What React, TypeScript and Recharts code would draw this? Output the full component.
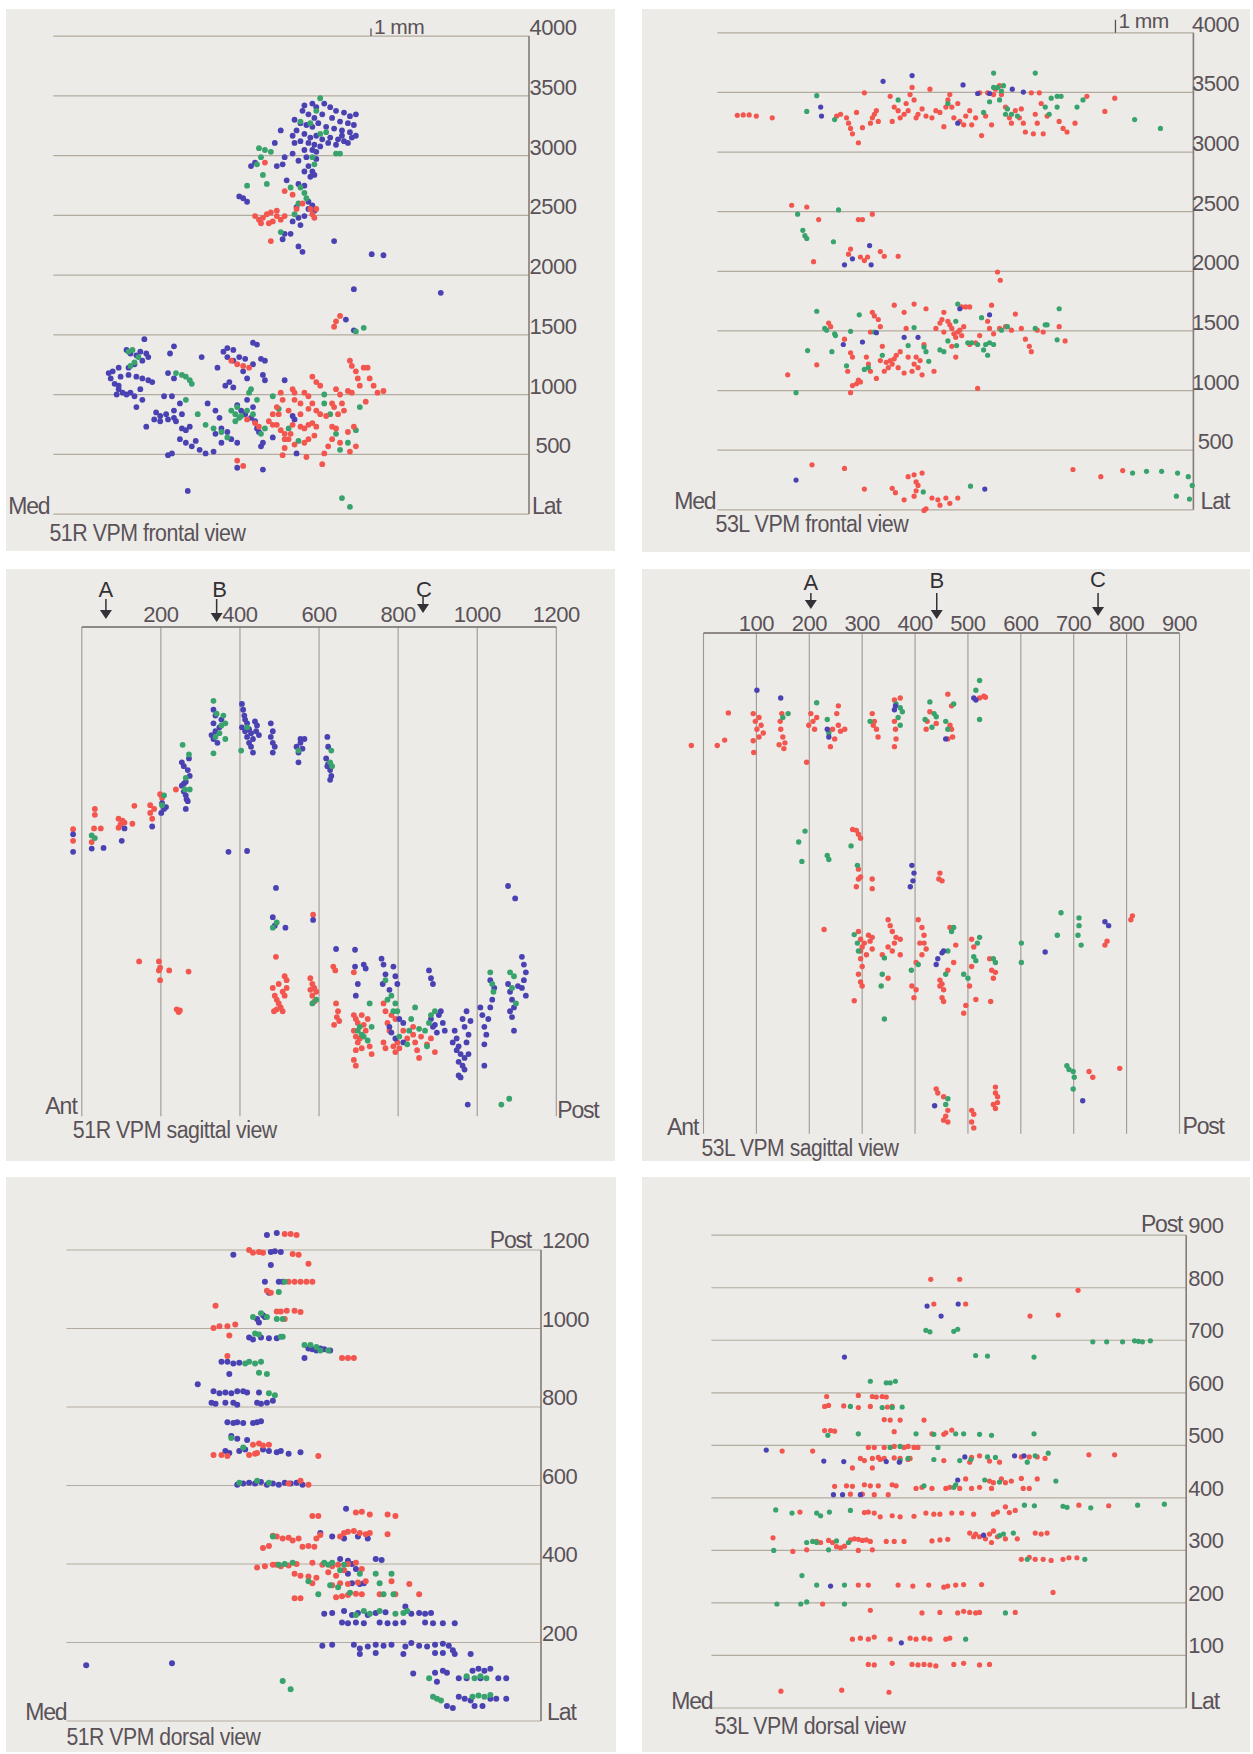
import React from "react";
import { ScatterChart, Scatter, XAxis, YAxis, ReferenceLine, ReferenceDot } from "recharts";

type Pt = [number, number];

// ---------- tick values and labels ----------
const frontalTicks = [500, 1000, 1500, 2000, 2500, 3000, 3500, 4000];
const p3Ticks = [200, 400, 600, 800, 1000, 1200];
const p4Ticks = [100, 200, 300, 400, 500, 600, 700, 800, 900];
const p5Ticks = [200, 400, 600, 800, 1000, 1200];
const p6Ticks = [100, 200, 300, 400, 500, 600, 700, 800, 900];
const arrowLetters = ["A", "B", "C"];
const p3ArrowX = [61, 341, 863];
const p4ArrowX = [203, 441, 746];
const p1ScaleX = 2671;
const p2ScaleX = 3345;
const titles = [
  "51R VPM frontal view",
  "53L VPM frontal view",
  "51R VPM sagittal view",
  "53L VPM sagittal view",
  "51R VPM dorsal view",
  "53L VPM dorsal view",
];

// ---------- 51R frontal ----------
const p1Blue: Pt[] = [
  [2111,3420],[2178,3435],[2211,3405],[2278,3435],[2328,3405],[2377,3375],[2444,3360],[2494,3330],[2544,3345],[2095,3375],[2145,3345],[2195,3315],[2261,3345],[2344,3315],[2411,3285],[2477,3271],[2527,3256],[2028,3300],[2078,3271],[2128,3256],[2178,3241],[2228,3271],[2294,3241],[2361,3226],[2427,3211],[2494,3196],[2544,3166],[2045,3211],[2111,3181],[2161,3151],[2211,3166],[2261,3136],[2328,3151],[2394,3136],[2444,3121],[2510,3151],[2078,3121],[2145,3106],[2195,3091],[2244,3077],[2311,3106],[2377,3091],[2427,3166],[2477,3106],[2012,3166],[2028,3106],[2111,3047],[2178,3047],[2211,3032],[1912,3211],[1862,3106],[1945,2987],[2012,3017],[2061,2957],[2128,2987],[2211,2972],[2145,2912],[2178,2867],[2111,2867],[2161,2823],[2195,2838],[1928,2927],[1879,2912],[1662,2912],[1696,2942],[1563,2658],[1629,2614],[1596,2643],[1962,2793],[2061,2763],[2111,2748],[2145,2614],[2178,2584],[2195,2539],[2145,2554],[2045,2569],[2111,2494],[2061,2479],[2012,2449],[2078,2419],[1945,2345],[1995,2345],[1928,2300],[2061,2240],[2095,2195],[2361,2285],[2677,2175],[2776,2166],
  [2527,1882],[3258,1852],[2460,1628],[2527,1538],
  [765,1464],[615,1374],[648,1344],[698,1329],[731,1359],[781,1344],[798,1314],[748,1284],[682,1254],[632,1225],[549,1225],[499,1195],[465,1180],[482,1135],[515,1090],[565,1150],[632,1165],[698,1150],[748,1135],[798,1120],[831,1105],[549,1045],[582,1016],[615,1001],[648,1016],[682,986],[549,1075],[532,1001],[698,896],[731,1045],[748,956],[1014,1404],[981,1344],[964,1180],[1014,1135],[931,986],[997,986],[864,851],[898,821],[948,836],[1014,866],[1064,926],[1081,836],[848,792],[898,777],[964,792],[1014,806],[1031,777],[1081,717],[1114,702],[1147,732],[781,732],[1064,627],[1114,597],[1164,567],[1197,612],[1230,538],[1280,508],[1347,523],[1297,926],[1363,866],[1397,806],[1413,717],[1463,687],[1496,627],[1546,597],[1413,597],[1363,672],[1247,1314],[1380,1225],[1430,1359],[1463,1389],[1513,1374],[1463,1314],[1513,1284],[1563,1314],[1613,1299],[1679,1434],[1712,1419],[1746,1299],[1779,1284],[1679,1254],[1596,1195],[1629,1135],[1762,1165],[1779,1120],[1480,1105],[1446,1075],[1513,1060],[1546,911],[1579,866],[1613,836],[1679,896],[1629,956],[1662,806],[1696,777],[1712,717],[1729,687],[1762,597],[964,493],[997,508],[1546,388],[1762,373],[1130,194],[1945,1120],[2028,792],[2012,821],[2045,508],[1746,567],[1845,642],
];
const p1Green: Pt[] = [
  [2244,3480],[2211,3375],[2161,3271],[2078,3285],[2244,3181],[2294,3196],[1729,3062],[1779,3047],[1829,3032],[1746,2987],[1712,2927],[1762,2838],[1795,2763],[1629,2748],[2178,2987],[2195,2927],[2078,2733],[2111,2688],[2128,2643],[1995,2733],[1912,2360],[2028,2509],[2061,2599],[2377,3017],[2411,3017],
  [2610,1559],[2544,1529],
  [632,1359],[665,1374],[682,1270],[715,1314],[648,1240],[1031,1180],[1081,1165],[1114,1150],[1147,1120],[1164,1090],[1114,956],[1214,836],[1280,747],[1347,717],[1413,687],[1463,642],[1496,866],[1530,836],[1563,806],[1530,777],[1546,896],[1579,821],[1629,866],[1646,1016],[1662,1045],[1679,836],[1712,956],[1746,672],[1779,717],[1845,986],[1895,881],[1978,717],[2061,612],[2278,926],[2328,836],[2377,672],[2411,538],[2477,597],[2544,702],[2427,134],[2494,60],[2577,896],[2278,1001],
];
const p1Red: Pt[] = [
  [1779,2942],[1945,2703],[2095,2599],[1696,2494],[1729,2464],[1762,2479],[1795,2509],[1829,2524],[1879,2494],[1912,2464],[1945,2494],[1845,2449],[1812,2434],[1746,2434],[1879,2539],[2178,2509],[2195,2479],[2161,2554],[2211,2554],[2045,2554],[1829,2285],[2012,2673],
  [2411,1658],[2377,1613],[2361,1568],
  [1496,1284],[1546,1254],[1596,1240],[1646,1225],[1546,448],[1596,403],[1629,792],[1696,762],[1729,732],[1812,777],[1845,747],[1879,747],[1912,702],[1945,672],[1978,627],[2012,747],[2078,732],[2111,717],[2145,747],[2178,762],[2211,732],[2195,657],[2145,627],[2111,597],[2028,582],[1945,553],[1928,493],[1945,627],[1879,896],[1895,836],[1845,836],[1928,956],[1978,866],[2012,1045],[2028,956],[2078,926],[2111,1016],[2145,986],[2178,1150],[2211,1105],[2244,1075],[2178,926],[2211,866],[2244,836],[2294,821],[2344,732],[2344,627],[2311,567],[2278,508],[2261,418],[2128,478],[2377,1045],[2411,1001],[2427,926],[2444,866],[2394,836],[2344,926],[2361,896],[2477,1030],[2494,1284],[2510,1240],[2544,1195],[2560,1135],[2577,1075],[2610,1225],[2643,1225],[2660,1135],[2693,1075],[2726,1016],[2776,1030],[2510,1016],[2627,941],[2527,732],[2477,687],[2544,567],[2494,523],[2411,597],[2377,717],[1995,672],[2078,836],[2028,1016],[1912,1016],[2145,881],
];

// ---------- 53L frontal ----------
const p2Red: Pt[] = [
  [167,3308],[217,3311],[267,3311],[327,3302],[461,3287],[1002,3302],[1035,3317],[1085,3287],[1102,3242],[1119,3198],[1135,3153],[1185,3078],[1169,3332],[1219,3204],[1235,3497],[1286,3242],[1302,3287],[1336,3347],[1352,3257],[1319,3317],[1452,3467],[1469,3257],[1486,3377],[1519,3347],[1536,3287],[1569,3317],[1586,3407],[1603,3347],[1619,3482],[1636,3542],[1653,3437],[1670,3287],[1686,3317],[1720,3362],[1753,3302],[1786,3527],[1803,3287],[1836,3347],[1870,3332],[1903,3213],[1920,3377],[1937,3437],[1953,3482],[1970,3377],[1987,3287],[2020,3407],[2037,3257],[2070,3228],[2087,3302],[2120,3347],[2137,3228],[2170,3287],[2204,3497],[2220,3138],[2254,3302],[2271,3497],[2304,3228],[2321,3482],[2337,3527],[2371,3557],[2387,3482],[2421,3377],[2454,3287],[2471,3242],[2504,3347],[2538,3287],[2554,3362],[2571,3242],[2588,3168],[2638,3497],[2655,3153],[2671,3317],[2688,3242],[2705,3497],[2721,3407],[2771,3302],[2872,3257],[2905,3198],[2938,3168],[3005,3242],[3105,3467],[3256,3341],[3339,3452],[2738,3153],
  [624,2554],[751,2539],[851,2434],[1185,2434],[1219,2434],[1302,2479],[1102,2144],[1119,2186],[1202,2120],[1235,2090],[1262,2120],[1369,2165],[1402,2126],[1519,2126],[808,2081],[2354,1994],[2377,1925],
  [591,1132],[835,1216],[935,1566],[952,1536],[1068,1431],[1119,1317],[1135,1281],[1095,1162],[1135,1042],[1119,982],[1169,1057],[1185,1087],[1202,1072],[1252,1281],[1269,1222],[1286,1162],[1302,1656],[1319,1626],[1336,1102],[1352,1596],[1286,1491],[1369,1536],[1369,1251],[1402,1162],[1386,1371],[1419,1237],[1436,1192],[1452,1251],[1469,1222],[1486,1266],[1503,1296],[1519,1192],[1536,1326],[1486,1716],[1569,1656],[1586,1521],[1603,1281],[1569,1147],[1636,1162],[1653,1222],[1670,1281],[1686,1192],[1703,1251],[1653,1725],[1753,1686],[1736,1386],[1720,1132],[1820,1162],[1836,1521],[1870,1566],[1887,1596],[1903,1656],[1903,1491],[1937,1581],[1953,1551],[1970,1521],[1987,1476],[2003,1446],[2020,1491],[2037,1506],[2053,1461],[2070,1536],[2053,1701],[2087,1701],[2120,1701],[1970,1371],[2003,1281],[2120,1386],[2187,1018],[2204,1461],[2271,1581],[2287,1521],[2304,1716],[2321,1476],[2371,1521],[2421,1536],[2504,1641],[2471,1506],[2554,1521],[2588,1431],[2621,1371],[2638,1326],[2688,1506],[2738,1491],[2872,1536],[2922,1416],[2170,1401],
  [795,377],[1068,347],[1235,174],[1469,180],[1496,144],[1569,84],[1603,278],[1653,293],[1670,234],[1686,204],[1720,308],[1670,159],[1653,114],[1736,-5],[1753,9],[1803,99],[1853,84],[1870,39],[1920,99],[1953,54],[2020,99],[2988,338],[3222,278],[3406,329],
];
const p2Blue: Pt[] = [
  [1392,3593],[1636,3641],[868,3377],[875,3302],[2064,3563],[2020,3242],[2187,3491],[2287,3491],[2478,3527],[2571,3503],
  [1279,2216],[1135,2105],[1068,2054],[1292,2054],
  [1058,1386],[1219,1407],[1336,1485],[1569,1446],[1686,1446],[2037,1686],[2287,1635],
  [661,249],[2247,174],
];
const p2Green: Pt[] = [
  [835,3473],[751,3341],[985,3272],[1519,3437],[1937,3407],[2237,3332],[2287,3422],[2321,3662],[2321,3542],[2354,3542],[2387,3512],[2404,3557],[2421,3317],[2471,3317],[2521,3302],[2671,3662],[2755,3377],[2805,3452],[2855,3467],[2888,3467],[2788,3317],[2855,3377],[3022,3377],[3072,3437],[3506,3272],[3723,3198],[2371,3437],[2437,3362],
  [674,2479],[1018,2515],[718,2344],[751,2275],[735,2299],[975,2248],
  [835,1665],[902,1521],[918,1506],[985,1476],[992,1461],[758,1335],[962,1326],[1119,1497],[1085,1207],[1192,1635],[1235,1177],[1269,1192],[1319,1491],[1386,1296],[1603,1377],[1653,1528],[1736,1365],[1753,1326],[1776,1245],[1870,1341],[1903,1326],[1937,1416],[2010,1377],[2020,1725],[2003,1581],[2104,1401],[2137,1401],[2187,1386],[2220,1611],[2237,1341],[2254,1386],[2271,1296],[2287,1401],[2321,1386],[2387,1506],[2437,1536],[2671,1521],[2755,1551],[2771,1551],[2872,1686],[2855,1425],[661,982],
  [1730,150],[2127,198],[3489,308],[3606,323],[3733,323],[3867,308],[3957,278],[3990,204],[3857,114],[3967,90],
];

// ---------- 51R sagittal ----------
const p3Red: Pt[] = [
  [-22,2306],[-22,2209],[33,2476],[33,2427],[31,2313],[25,2199],[48,2313],[93,2394],[98,2346],[103,2378],[93,2319],[108,2362],[128,2352],[133,2502],[173,2508],[173,2443],[178,2394],[183,2476],[198,2600],[203,2567],[238,2639],
  [585,1590],[145,1199],[195,1199],[198,1147],[198,1042],[221,1124],[270,1114],[195,1124],[240,798],[245,775],[248,788],[491,1238],
  [483,977],[488,912],[493,879],[498,847],[503,814],[508,782],[493,798],[513,1075],[518,1042],[518,977],[513,912],[508,945],[486,782],[498,1010],
  [578,1059],[583,1010],[588,977],[593,945],[583,912],[588,863],[578,961],
  [636,1156],[641,1124],[643,847],[648,782],[645,733],[638,668],[651,700],
  [688,1108],[688,749],[693,717],[698,684],[688,619],[693,570],[698,521],[693,456],[688,374],[693,326],[708,749],[713,668],[718,619],[723,717],[728,488],[733,423],[708,472],[703,554],
  [763,847],[768,782],[773,684],[778,619],[763,521],[768,472],[788,488],[793,440],[798,521],[803,472],[783,749],[793,717],[813,619],[823,554],
  [838,586],[843,521],[848,456],[853,391],[838,651],[858,570],[873,505],[893,440],[883,554],
];
const p3Blue: Pt[] = [
  [-22,2264],[-22,2117],[25,2144],[55,2150],[101,2209],[108,2313],[178,2329],[203,2525],[201,2443],[208,2476],[213,2492],
  [253,2671],[258,2622],[263,2590],[268,2541],[263,2476],[253,2867],[258,2834],[268,2802],[273,2753],[263,2704],[271,2899],[265,2557],[258,2688],
  [333,3307],[338,3258],[333,3193],[338,3127],[333,3062],[343,3030],[328,3095],[348,3160],[353,3225],
  [405,3356],[408,3307],[411,3258],[413,3225],[418,3193],[423,3144],[428,3111],[433,3062],[423,3030],[428,2997],[433,2948],[438,3209],[443,3176],[413,3127],[418,3079],[405,3160],[441,3127],[448,3095],
  [478,3193],[483,3127],[478,3079],[483,3030],[488,2997],[483,2948],
  [543,2997],[548,2948],[553,3030],[558,2981],[563,3062],[548,2867],[553,3062],
  [621,3079],[623,2997],[618,2899],[623,2851],[628,2802],[631,2753],[628,2720],[621,2834],
  [371,2117],[418,2124],
  [491,1815],[483,1570],[488,1498],[515,1482],[585,1547],[643,1303],
  [691,1297],[691,1156],[698,1010],[693,912],[713,1173],[718,1140],
  [758,1222],[763,1173],[768,1091],[761,1010],[788,1156],[793,1075],[798,1010],[778,651],[783,603],[803,717],[813,684],[793,554],[778,961],[813,521],
  [878,1124],[883,1059],[888,1010],[883,717],[893,668],[903,749],[908,782],[913,684],[918,619],[898,603],[888,651],
  [943,619],[948,554],[953,488],[958,423],[953,358],[963,326],[968,293],[953,244],[958,228],[973,521],[978,586],[968,651],[973,782],[983,700],[963,717],[948,456],[938,521],[978,423],[968,391],[976,0],
  [1008,814],[1013,749],[1018,651],[1023,586],[1018,505],[1033,814],[1038,879],[1028,717],[1018,326],[1033,1042],[1043,977],
  [1078,1010],[1083,945],[1088,879],[1093,814],[1083,782],[1088,733],[1093,619],[1078,1831],[1096,1727],[1113,1238],[1118,1173],[1123,1108],[1118,1042],[1113,977],[1123,912],[1103,993],
];
const p3Green: Pt[] = [
  [25,2254],[33,2232],[208,2590],[203,2508],
  [255,3013],[271,2932],[263,2737],[273,2639],[261,2639],
  [333,3382],[341,3274],[338,3079],[348,3111],[353,3176],[358,3258],[363,3062],[333,2942],[363,3193],
  [403,2965],[418,3160],[548,2965],[631,2965],[628,2867],[633,2834],
  [493,1525],[483,1482],[593,879],[583,847],
  [698,619],[708,586],[713,570],[723,537],[733,651],[728,847],[703,651],
  [768,1042],[773,879],[783,912],[793,847],[788,782],[798,782],[803,570],[823,505],[833,717],[843,814],[828,619],
  [853,635],[868,619],[878,684],[883,749],[893,782],[873,488],
  [1033,1108],[1038,1010],[1041,945],
  [1083,1108],[1093,1075],[1098,847],[1088,977],[1061,0],[1081,49],
];

// ---------- 53L sagittal ----------
const p4Red: Pt[] = [
  [-23,3058],[26,3058],[40,3103],[47,3331],[94,3325],[98,3260],[101,3194],[105,3129],[94,3097],[95,2999],[109,3227],[113,3162],[105,3292],[145,3260],[146,3194],[150,3129],[143,3064],[152,3032],[148,3325],[154,3080],[195,2918],[203,3325],[207,3260],[210,3194],[214,3292],[199,3227],[255,3390],[252,3325],[255,3227],[259,3178],[244,3194],[240,3048],[248,3113],[267,3194],[319,3325],[323,3260],[327,3194],[330,3129],[321,3227],[361,3439],[361,3260],[363,3194],[364,3113],[361,3048],[372,3455],[421,3194],[423,3260],[428,3341],[440,3243],[462,3488],[466,3227],[469,3194],[471,3129],[462,3113],[469,3390],[522,3455],[530,3471],[533,3462],
  [282,2354],[289,2347],[293,2315],[297,2282],[293,2022],[297,1956],[289,1875],[293,1940],[319,1940],[319,1859],[447,1989],[451,1924],[445,1940],
  [228,1517],[285,920],[293,1500],[297,1435],[300,1370],[304,1403],[312,1468],[315,1419],[319,1354],[297,1272],[300,1207],[293,1142],[297,1077],[300,1044],[297,1337],[308,1305],[319,1451],[349,1598],[353,1549],[357,1500],[364,1451],[361,1403],[349,1370],[372,1435],[372,1305],[357,1337],[338,1305],[349,1109],[406,1598],[413,1533],[417,1468],[409,1403],[421,1354],[413,1305],[402,1240],[394,1044],[402,1012],[398,946],[417,1403],[447,1093],[451,1060],[454,1012],[451,946],[454,914],[447,1044],[462,1175],[466,1533],[477,1386],[507,1435],[511,1370],[507,1207],[515,930],[496,881],[492,816],[541,1272],[545,1175],[548,1109],[543,914],[552,1158],[811,1631],[808,1598],[759,1386],[763,1419],[503,1044],[473,1240],
  [440,181],[443,148],[454,116],[462,2],[458,-47],[454,-80],[462,-96],[507,2],[511,-31],[507,-96],[511,-145],[552,197],[552,148],[556,116],[548,51],[552,18],[556,67],[729,327],[736,279],[787,354],
];
const p4Green: Pt[] = [
  [160,3325],[150,3292],[214,3416],[234,3276],[237,3162],[315,3260],[364,3406],[372,3374],[376,3341],[368,3292],[372,3227],[419,3276],[428,3423],[436,3325],[440,3299],[458,3260],[462,3194],[473,3406],[515,3520],[522,3602],[522,3276],[432,3211],
  [192,2341],[180,2250],[186,2087],[234,2136],[237,2103],[279,2217],[291,2054],
  [285,1474],[291,1403],[293,1337],[342,1279],[338,1142],[336,1044],[342,767],[393,1175],[406,1223],[462,1337],[469,1500],[473,1533],[458,1142],[492,1142],[500,1109],[511,1289],[515,1256],[522,1451],[518,1403],[552,1240],[548,1272],[601,1403],[601,1240],[669,1468],[676,1657],[710,1614],[710,1549],[708,1468],[714,1386],
  [687,376],[691,344],[699,327],[701,279],[699,181],[458,51],[462,99],
];
const p4Blue: Pt[] = [
  [101,3520],[146,3455],[234,3194],[237,3129],[363,3390],[361,3357],[458,3113],[511,3455],[515,3439],
  [394,2054],[396,1924],[391,1875],[398,1989],
  [440,1223],[443,1272],[451,1321],[454,1337],[646,1328],[759,1582],[766,1549],
  [437,41],[717,83],
];

// ---------- 51R dorsal ----------
const p5Blue: Pt[] = [
  [1690,1238],[1773,1243],[1407,1188],[1723,1195],[1757,1197],[1807,1195],[1723,1162],[1673,1119],[1790,1119],[1823,1119],[1707,1091],[1657,1034],[1607,1024],[1623,1015],[1673,1029],[1540,977],[1573,972],[1640,977],[1707,975],[1773,975],[1307,915],[1357,915],[1407,911],[1457,913],[1373,884],[1107,858],[1240,840],[1290,835],[1340,837],[1390,835],[1440,840],[1490,840],[1523,837],[1223,811],[1257,808],[1340,811],[1407,811],[1440,806],[1607,811],[1640,808],[1690,811],[1740,816],[1357,761],[1407,759],[1440,761],[1490,759],[1573,759],[1607,761],[1640,764],[1390,726],[1440,719],[1523,716],[1340,688],[1373,683],[1457,688],[1507,692],[1657,692],[1707,688],[1773,685],[1807,688],[1873,681],[1973,685],[2007,925],[2040,949],[2073,947],[2107,944],[2140,949],[2173,947],[2223,944],[1440,602],[1490,605],[1540,607],[1590,605],[1640,609],[1690,602],[1740,605],[1790,602],[1840,607],[1890,605],[1940,607],[1990,602],[1623,837],
  [2357,541],[2140,479],[2240,470],[2340,465],[2457,470],[2540,465],[2607,413],[2657,410],[2307,413],[2373,408],[2407,400],[2440,387],[2407,351],[2473,349],[2507,351],[2373,375],[2173,273],[2240,275],[2340,280],[2407,270],[2457,275],[2540,270],[2607,275],[2690,277],[2857,292],[2907,273],[2973,275],[3023,273],[3073,275],[2323,251],[2373,249],[2440,251],[2507,249],[2640,251],[2707,249],[2773,249],[2840,251],[3023,251],[3090,249],[3173,249],[3273,249],[2157,192],[2240,194],[2423,194],[2473,185],[2540,190],[2607,194],[2673,192],[2740,194],[2857,190],[2907,199],[2973,192],[3040,190],[3107,194],[3173,197],[3223,192],[3257,180],[2473,171],[2607,173],[2840,171],[3107,173],[3173,173],[3273,171],[3407,171],[2923,121],[3107,123],[3173,128],[3207,123],[3307,109],[3373,109],[3423,128],[3473,133],[3523,128],[3573,133],[3640,109],[3707,109],[3307,62],[3357,57],[3407,52],[3440,38],[3507,38],[3573,57],[3623,57],[3707,57],[3207,38],[3257,33],[3490,109],[167,142],[890,147],[3123,100],
];
const p5Green: Pt[] = [
  [1573,1029],[1640,1039],[1690,1029],[1773,1024],[1823,1024],[1590,987],[1623,985],[1823,979],[1507,911],[1540,915],[1590,911],[1640,915],[1623,887],[1690,884],[1707,835],[1757,830],[1390,721],[1490,697],[2007,958],[2057,958],[2107,953],[2140,944],[2207,944],[1457,607],[1607,612],[1707,607],[1807,979],[1840,1119],[1790,1093],
  [1740,470],[1790,398],[1840,400],[1907,403],[2173,403],[2207,398],[2240,403],[2307,384],[2340,398],[2040,356],[2123,323],[2223,346],[2290,341],[2390,327],[2473,375],[2607,375],[2640,351],[2740,375],[2757,323],[2673,323],[2440,270],[2507,280],[2557,273],[2640,280],[2773,273],[2840,275],[2873,280],[3057,109],[3090,62],[3123,57],[3157,52],[3373,114],[3440,109],[3490,114],[3540,109],[3423,62],[3473,65],[3523,62],[3573,66],[1823,102],[1890,81],
];
const p5Red: Pt[] = [
  [1840,1241],[1890,1241],[1940,1238],[1540,1200],[1573,1193],[1623,1195],[1657,1193],[1907,1190],[1957,1188],[2040,1165],[1873,1119],[1923,1119],[1973,1119],[2023,1119],[2073,1119],[1690,1096],[1723,1091],[1257,1058],[1773,1043],[1807,1043],[1857,1045],[1923,1045],[1973,1042],[1240,1001],[1290,1006],[1357,1006],[1423,1010],[1373,982],[1840,1024],[1357,930],[1240,678],[1307,678],[1357,675],[1573,704],[1623,707],[1657,702],[1707,704],[1540,678],[1590,681],[2123,675],[2323,925],[2373,925],[2423,925],[1873,605],[2040,602],[1973,612],[1607,683],
  [2073,522],[2123,522],[2440,531],[2490,533],[2557,526],[2707,526],[2773,522],[1657,441],[1707,446],[1740,472],[1773,470],[1823,465],[1873,467],[1907,460],[1957,465],[1990,444],[2040,446],[2090,444],[2107,465],[2140,474],[2307,470],[2340,479],[2373,482],[2423,484],[2473,479],[2523,476],[2557,479],[2707,476],[1607,391],[1673,394],[1740,398],[1773,398],[1807,394],[1873,396],[1940,400],[2073,403],[2157,398],[2240,394],[2290,398],[2340,384],[2373,400],[2440,403],[2490,387],[1923,375],[1973,370],[2040,368],[2107,365],[2073,351],[2240,346],[2307,351],[2373,349],[2457,353],[2523,356],[2740,356],[2890,349],[1923,313],[1973,313],[2273,315],[2323,318],[2373,321],[2440,324],[2490,323],[2640,323],[2773,323],[2973,323],[2273,370],[2207,379],
];

// ---------- 53L dorsal ----------
const p6Red: Pt[] = [
  [1848,816],[2092,816],[3089,795],[1874,769],[2142,769],[2684,746],[2922,748],
  [971,593],[1238,595],[1356,593],[1389,592],[1439,593],[1473,592],[954,574],[987,576],[1115,575],[1238,572],[1339,574],[1483,573],[1523,574],[1456,549],[1506,548],[1590,548],[1791,548],[954,528],[1004,528],[1038,527],[1540,526],[1858,522],[1958,521],[1975,524],[2025,529],[1322,496],[1372,496],[1456,496],[1540,498],[1623,496],[1657,498],[1707,496],[1740,496],[853,489],[596,489],
  [1188,457],[1255,475],[1289,471],[1356,475],[1356,457],[1406,477],[1422,473],[1456,475],[1540,476],[1590,475],[1657,473],[1674,475],[1958,471],[2176,468],[2259,480],[2343,470],[2427,468],[2611,478],[2678,478],[2745,478],[2811,475],[3180,482],[3397,482],[2192,477],
  [1038,422],[1138,423],[1188,422],[1289,425],[1339,423],[1406,423],[1523,425],[1556,423],[1724,418],[1774,420],[1858,418],[1975,418],[2008,420],[2092,418],[2142,436],[2192,418],[2259,420],[2343,432],[2376,429],[2443,436],[2477,429],[2527,432],[2611,437],[2627,418],[2678,418],[2745,436],[1372,406],[1490,406],[1272,407],[1171,407],[2360,418],
  [746,373],[1289,372],[1322,373],[1372,371],[1422,364],[1523,366],[1590,364],[1707,365],[1807,371],[1874,369],[1925,369],[2025,371],[2109,371],[2209,369],[2376,369],[2410,373],[2477,383],[2510,372],[2560,376],[3096,386],[3347,385],
  [519,324],[686,298],[803,301],[887,317],[920,315],[987,319],[1021,315],[1054,307],[1088,305],[1121,308],[1171,320],[1205,322],[1238,321],[1272,319],[1305,320],[1339,317],[1238,300],[1356,301],[1473,317],[1540,317],[1623,317],[1858,318],[1925,320],[1991,321],[2176,333],[2226,331],[2259,326],[2309,322],[2360,315],[2343,331],[2376,337],[2410,326],[2477,322],[2577,322],[2611,283],[2678,287],[2728,283],[2795,283],[2862,281],[2962,283],[3012,286],[3079,286],[2728,333],[2778,331],[2828,333],[2209,326],
  [937,198],[1238,234],[1322,234],[1573,234],[1697,232],[1831,234],[1958,230],[1991,232],[2058,234],[2125,235],[2276,235],[2878,220],[1339,186],[1774,181],[1925,182],[2075,181],[2125,184],[2176,182],[2226,181],[2259,182],[2560,182],
  [1188,131],[1255,133],[1322,131],[1372,135],[1506,131],[1674,133],[1724,131],[1791,133],[1841,131],[1975,131],[2008,133],[1322,83],[1372,82],[1523,85],[1690,83],[1740,82],[1791,83],[1841,82],[1891,80],[2042,83],[2125,85],[2259,82],[2343,83],[586,32],[1098,34],[1496,30],
];
const p6Green: Pt[] = [
  [1807,719],[1841,716],[2042,717],[2075,721],[2226,671],[2326,670],[2718,668],[3213,697],[3330,697],[3464,697],[3565,699],[3598,698],[3631,697],[3698,699],[1339,622],[1473,619],[1506,619],[1550,622],
  [1171,574],[1439,572],[1523,572],[1607,573],[981,519],[1238,522],[1724,522],[1874,521],[2058,522],[2125,522],[2259,521],[2360,519],[2718,522],[1506,496],[1590,498],[1908,496],
  [1874,473],[2092,471],[2186,473],[2326,478],[2393,477],[2661,468],[2728,480],[2838,485],[1590,471],[1657,475],
  [1791,423],[2042,420],[2303,434],[2427,430],[2902,432],[2058,425],
  [542,377],[679,371],[887,371],[920,366],[994,373],[1171,376],[2721,385],[2962,384],[2996,382],[3196,381],[3591,386],[3816,388],[2637,386],
  [525,300],[803,315],[853,317],[887,315],[987,301],[1054,318],[1155,315],[2460,331],[2544,333],[2661,283],[3146,283],[2427,328],
  [763,252],[887,234],[1121,234],[552,198],[753,198],[803,202],[1121,198],[2142,131],[2477,181],
];
const p6Blue: Pt[] = [
  [1817,765],[1935,746],[2079,769],[1121,668],[462,491],[947,470],[1115,469],[1473,469],[1583,468],[2135,478],[2554,480],[2634,480],[1028,406],[1105,406],[1255,406],[2075,434],[2293,329],[1004,232],[1600,124],
];

// ---------- styles ----------
const BLUE = "#4a42b2";
const RED = "#f2564e";
const GREEN = "#38a36c";
const BG = "#ecebe7";
const GRID = "#b4aba0";
const AXIS = "#857b75";
const VLINE = "#9f9893";
const INK = "#5a5258";
const DARK = "#333036";
const FONT = "'Liberation Sans', Arial, Helvetica, sans-serif";
const PAD = 16; // chart svg extends past the grey card so edge texts are not clipped

const lin = (p0: number, v0: number, p1: number, v1: number, p: number) =>
  v0 + ((p - p0) * (v1 - v0)) / (p1 - p0);

const seg = (key: string, x1: number, y1: number, x2: number, y2: number, stroke = GRID, w = 1.2) => (
  <ReferenceLine
    key={key}
    segment={[{ x: x1, y: y1 }, { x: x2, y: y2 }]}
    stroke={stroke}
    strokeWidth={w}
    ifOverflow="visible"
  />
);

type TOpts = { dx?: number; dy?: number; anchor?: "start" | "middle" | "end"; size?: number; ls?: number; len?: number; color?: string };
const txt = (key: string, x: number, y: number, text: string, o: TOpts = {}) => (
  <ReferenceDot
    key={key}
    x={x}
    y={y}
    r={0}
    ifOverflow="visible"
    shape={(p: any) => (
      <text
        x={p.cx + (o.dx ?? 0)}
        y={p.cy + (o.dy ?? 0)}
        textAnchor={o.anchor ?? "start"}
        fontFamily={FONT}
        fontSize={o.size ?? 22}
        letterSpacing={o.ls ?? -0.5}
        fill={o.color ?? INK}
        {...(o.len ? { textLength: o.len, lengthAdjust: "spacingAndGlyphs" } : {})}
      >
        {text}
      </text>
    )}
  />
);

const arrow = (key: string, x: number, y: number, letter: string, lb: number, top: number, tip: number, ldx = 0) => (
  <ReferenceDot
    key={key}
    x={x}
    y={y}
    r={0}
    ifOverflow="visible"
    shape={(p: any) => (
      <g>
        <text x={p.cx + ldx} y={p.cy + lb} textAnchor="middle" fontFamily={FONT} fontSize={22} fill={DARK}>
          {letter}
        </text>
        <line x1={p.cx} y1={p.cy + top} x2={p.cx} y2={p.cy + tip - 6} stroke={DARK} strokeWidth={1.5} />
        <path d={`M${p.cx - 6},${p.cy + tip - 9}L${p.cx + 6},${p.cy + tip - 9}L${p.cx},${p.cy + tip}Z`} fill={DARK} />
      </g>
    )}
  />
);

const scaleBar = (key: string, x: number, y: number, h: number, tdy: number) => (
  <ReferenceDot
    key={key}
    x={x}
    y={y}
    r={0}
    ifOverflow="visible"
    shape={(p: any) => (
      <g>
        <line x1={p.cx} y1={p.cy} x2={p.cx} y2={p.cy - h} stroke={INK} strokeWidth={1.3} />
        <text x={p.cx + 3} y={p.cy + tdy} fontFamily={FONT} fontSize={21} letterSpacing={-0.6} fill={INK}>
          1 mm
        </text>
      </g>
    )}
  />
);

const dot = (color: string, r: number) => (p: any) =>
  p.cx == null ? <g /> : <circle cx={p.cx} cy={p.cy} r={r} fill={color} />;

type Box = { left: number; top: number; width: number; height: number };
type Map4 = [number, number, number, number];

function Panel({ box, gx, gy, r, series, deco }: { box: Box; gx: Map4; gy: Map4; r: number; series: [Pt[], string][]; deco: React.ReactNode[] }) {
  const L = box.left - PAD;
  const T = box.top - PAD;
  const W = box.width + 2 * PAD;
  const H = box.height + 2 * PAD;
  const xd = [lin(gx[0], gx[1], gx[2], gx[3], L), lin(gx[0], gx[1], gx[2], gx[3], L + W)];
  const yd = [lin(gy[0], gy[1], gy[2], gy[3], T + H), lin(gy[0], gy[1], gy[2], gy[3], T)];
  return (
    <>
      <div style={{ position: "absolute", left: box.left, top: box.top, width: box.width, height: box.height, background: BG }} />
      <div style={{ position: "absolute", left: L, top: T, width: W, height: H }}>
        <ScatterChart width={W} height={H} margin={{ top: 0, right: 0, bottom: 0, left: 0 }}>
          <XAxis type="number" dataKey="x" domain={xd} hide allowDataOverflow />
          <YAxis type="number" dataKey="y" domain={yd} hide allowDataOverflow />
          {deco}
          {series.map(([pts, color], i) => (
            <Scatter
              key={i}
              data={pts.map(([x, y]) => ({ x, y }))}
              isAnimationActive={false}
              shape={dot(color, r)}
            />
          ))}
        </ScatterChart>
      </div>
    </>
  );
}

function frontalDeco(id: string, title: string, scaleX: number, o: { tdx: number; latDx: number; latDy: number; medDx: number; titleDx: number; titleDy: number; titleLen: number; barH: number; barDy: number }) {
  return [
    ...[0, ...frontalTicks].map((v) => seg(`${id}h${v}`, 0, v, 4000, v)),
    seg(`${id}ax`, 4000, 0, 4000, 4000, AXIS, 1.6),
    ...frontalTicks.map((v) => txt(`${id}t${v}`, 4000, v, String(v), { dx: o.tdx, dy: -1, anchor: "middle" })),
    txt(`${id}lat`, 4000, 0, "Lat", { dx: o.latDx, dy: o.latDy, size: 23, ls: -1 }),
    txt(`${id}med`, 0, 0, "Med", { dx: o.medDx, dy: o.latDy, anchor: "end", size: 23, ls: -1.2 }),
    txt(`${id}ti`, 0, 0, title, { dx: o.titleDx, dy: o.titleDy, size: 23, len: o.titleLen }),
    scaleBar(`${id}mm`, scaleX, 4000, o.barH, o.barDy),
  ];
}

function sagittalDeco(id: string, title: string, ticks: number[], xMax: number, yBot: number, arrowX: number[], arr: [number, number, number, number][], o: { tickDy: number; antDy: number; postDx: number; postDy: number; titleDx: number; titleDy: number; titleLen: number }) {
  return [
    ...[0, ...ticks].map((v) => seg(`${id}v${v}`, v, yBot, v, 4000, VLINE, 1.1)),
    seg(`${id}top`, 0, 4000, xMax, 4000, "#6f6968", 1.5),
    ...ticks.map((v) => txt(`${id}t${v}`, v, 4000, String(v), { dy: o.tickDy, anchor: "middle" })),
    ...arrowX.map((x, i) => arrow(`${id}a${i}`, x, 4000, arrowLetters[i], arr[i][0], arr[i][1], arr[i][2], arr[i][3])),
    txt(`${id}ant`, 0, yBot, "Ant", { dx: -5, dy: o.antDy, anchor: "end", size: 23, ls: -1 }),
    txt(`${id}post`, xMax, yBot, "Post", { dx: o.postDx, dy: o.postDy, size: 23, ls: -1.2 }),
    txt(`${id}ti`, 0, yBot, title, { dx: o.titleDx, dy: o.titleDy, size: 23, len: o.titleLen }),
  ];
}

function dorsalDeco(id: string, title: string, ticks: number[], yMax: number, o: { tdx: number; postDx: number; postDy: number; latDx: number; latDy: number; medDx: number; titleDx: number; titleDy: number; titleLen: number }) {
  return [
    ...[0, ...ticks].map((v) => seg(`${id}h${v}`, 0, v, 4000, v)),
    seg(`${id}ax`, 4000, 0, 4000, yMax, AXIS, 1.6),
    ...ticks.map((v) => txt(`${id}t${v}`, 4000, v, String(v), { dx: o.tdx, dy: -2 })),
    txt(`${id}post`, 4000, yMax, "Post", { dx: o.postDx, dy: o.postDy, anchor: "end", size: 23, ls: -1.2 }),
    txt(`${id}lat`, 4000, 0, "Lat", { dx: o.latDx, dy: o.latDy, size: 23, ls: -1 }),
    txt(`${id}med`, 0, 0, "Med", { dx: o.medDx, dy: o.latDy, anchor: "end", size: 23, ls: -1.2 }),
    txt(`${id}ti`, 0, 0, title, { dx: o.titleDx, dy: o.titleDy, size: 23, len: o.titleLen }),
  ];
}

export default function App() {
  return (
    <div style={{ position: "absolute", left: 0, top: 0, width: 1253, height: 1754, background: "#ffffff", overflow: "hidden" }}>
      <Panel
        box={{ left: 6, top: 9, width: 609, height: 542 }}
        gx={[53.4, 0, 529, 4000]}
        gy={[514.1, 0, 36.1, 4000]}
        r={2.9}
        series={[[p1Blue, BLUE], [p1Green, GREEN], [p1Red, RED]]}
        deco={frontalDeco("p1", titles[0], p1ScaleX, { tdx: 24, latDx: 3, latDy: 0, medDx: -4, titleDx: -4, titleDy: 27, titleLen: 196, barH: 7.5, barDy: -2 })}
      />
      <Panel
        box={{ left: 642, top: 9, width: 608, height: 543 }}
        gx={[717.4, 0, 1193.4, 4000]}
        gy={[509.8, 0, 32.8, 4000]}
        r={2.6}
        series={[[p2Red, RED], [p2Green, GREEN], [p2Blue, BLUE]]}
        deco={frontalDeco("p2", titles[1], p2ScaleX, { tdx: 22, latDx: 7, latDy: -1, medDx: -2, titleDx: -2, titleDy: 22, titleLen: 193, barH: 13, barDy: -5 })}
      />
      <Panel
        box={{ left: 6, top: 569, width: 609, height: 592 }}
        gx={[81.8, 0, 556.3, 1200]}
        gy={[1104.6, 0, 627, 4000]}
        r={2.9}
        series={[[p3Red, RED], [p3Blue, BLUE], [p3Green, GREEN]]}
        deco={sagittalDeco("p3", titles[2], p3Ticks, 1200, -98, p3ArrowX, [[-30, -28, -8, 0], [-30, -28, -5, 3], [-30, -30, -14, 1]], { tickDy: -5, antDy: -2, postDx: 1, postDy: 2, titleDx: -9, titleDy: 22, titleLen: 204 })}
      />
      <Panel
        box={{ left: 642, top: 569, width: 608, height: 592 }}
        gx={[703.5, 0, 1179.5, 900]}
        gy={[1110.6, 0, 633, 4000]}
        r={2.7}
        series={[[p4Red, RED], [p4Green, GREEN], [p4Blue, BLUE]]}
        deco={sagittalDeco("p4", titles[3], p4Ticks, 900, -194, p4ArrowX, [[-43, -40, -24, 0], [-45, -40, -14, 0], [-46, -40, -17, 0]], { tickDy: -2, antDy: 1, postDx: 3, postDy: 0, titleDx: -2, titleDy: 22, titleLen: 197 })}
      />
      <Panel
        box={{ left: 6, top: 1177, width: 610, height: 575 }}
        gx={[66.4, 0, 541, 4000]}
        gy={[1721, 0, 1250, 1200]}
        r={3.0}
        series={[[p5Blue, BLUE], [p5Red, RED], [p5Green, GREEN]]}
        deco={dorsalDeco("p5", titles[4], p5Ticks, 1200, { tdx: 1, postDx: -10, postDy: -2, latDx: 6, latDy: -1, medDx: 0, titleDx: 0, titleDy: 24, titleLen: 194 })}
      />
      <Panel
        box={{ left: 642, top: 1177, width: 608, height: 575 }}
        gx={[711.4, 0, 1186.2, 4000]}
        gy={[1708, 0, 1235.2, 900]}
        r={2.6}
        series={[[p6Red, RED], [p6Green, GREEN], [p6Blue, BLUE]]}
        deco={dorsalDeco("p6", titles[5], p6Ticks, 900, { tdx: 2, postDx: -4, postDy: -3, latDx: 4, latDy: 1, medDx: 1, titleDx: 3, titleDy: 26, titleLen: 191 })}
      />
    </div>
  );
}
